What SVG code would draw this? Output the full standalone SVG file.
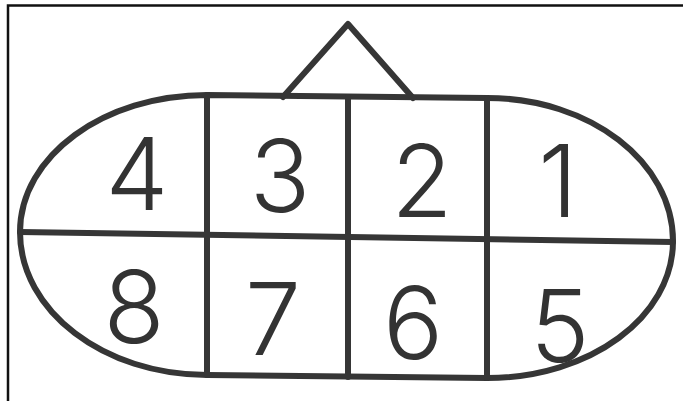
<svg xmlns="http://www.w3.org/2000/svg" width="683" height="401" viewBox="0 0 683 401">
  <style>
    .ln { fill: none; stroke: #363636; stroke-width: 6; stroke-linecap: round; stroke-linejoin: round; }
    .frame { fill: none; stroke: #111; stroke-width: 2.5; }
    .num { font-family: "Inter", "Open Sans", "Liberation Sans", sans-serif; font-weight: 300; font-size: 100px; fill: #333; text-anchor: middle; }
  </style>
  <rect width="683" height="401" fill="#fff"/>
  <g id="frame">
    <path class="frame" d="M8,401 V5.5 H683"/>
  </g>
  <g id="connector-body">
    <path class="ln" d="M207,95 C104,95 20,156 20,232 C20,311 104,375 207,375 L487,378 C590,378 673,317 673,241 C673,162 590,98 487,98 Z"/>
    <path class="ln" stroke-width="6.5" stroke-linejoin="miter" d="M283,97 L348,24 L413,98"/>
  </g>
  <g id="dividers">
    <path class="ln" stroke-width="7" d="M20,232 L673,242"/>
    <path class="ln" d="M207,95 V375"/>
    <path class="ln" d="M348,97 V377"/>
    <path class="ln" d="M487,98 V378"/>
  </g>
  <g id="pin-4"><text class="num" x="137" y="210">4</text></g>
  <g id="pin-3"><text class="num" x="280" y="212">3</text></g>
  <g id="pin-2"><text class="num" x="422" y="217">2</text></g>
  <g id="pin-1"><text class="num" x="558" y="217">1</text></g>
  <g id="pin-8"><text class="num" x="134" y="343">8</text></g>
  <g id="pin-7"><text class="num" x="273" y="355">7</text></g>
  <g id="pin-6"><text class="num" x="413" y="359">6</text></g>
  <g id="pin-5"><text class="num" x="560" y="362">5</text></g>
</svg>
